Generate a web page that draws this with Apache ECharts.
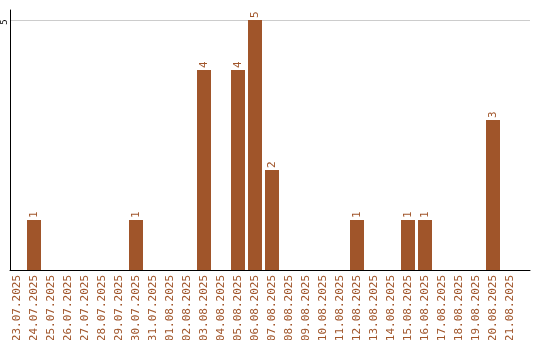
<!DOCTYPE html>
<html><head><meta charset="utf-8">
<script src="https://cdn.jsdelivr.net/npm/echarts@6/dist/echarts.min.js"></script>
<style>html,body{margin:0;padding:0;background:#fff}#c{width:540px;height:340px}</style>
</head><body><div id="c"></div>
<script>
const categories = ['23.07.2025','24.07.2025','25.07.2025','26.07.2025','27.07.2025','28.07.2025','29.07.2025','30.07.2025','31.07.2025','01.08.2025','02.08.2025','03.08.2025','04.08.2025','05.08.2025','06.08.2025','07.08.2025','08.08.2025','09.08.2025','10.08.2025','11.08.2025','12.08.2025','13.08.2025','14.08.2025','15.08.2025','16.08.2025','17.08.2025','18.08.2025','19.08.2025','20.08.2025','21.08.2025'];
const values = [0,1,0,0,0,0,0,1,0,0,0,4,0,4,5,2,0,0,0,0,1,0,0,1,1,0,0,0,3,0];
const yTicks = [5];
const color = '#a0552a';
const chart = echarts.init(document.getElementById('c'), null, {renderer:'canvas'});
chart.setOption({
  animation:false,
  grid:[
    {left:8.5, right:21.5, top:10, bottom:70, containLabel:false, outerBoundsMode:'none'},
    {left:10, right:10, top:10, bottom:70, containLabel:false, outerBoundsMode:'none'}
  ],
  xAxis:[
    {type:'category', data:categories, boundaryGap:true, gridIndex:0,
      axisLine:{show:false}, axisTick:{show:false},
      axisLabel:{interval:0, rotate:90, color:color, fontFamily:'DejaVu Sans Mono', fontSize:11, margin:5}},
    {type:'value', gridIndex:1, min:0, max:1, axisLine:{show:true, onZero:false, lineStyle:{color:'#000', width:1}},
      axisTick:{show:false}, axisLabel:{show:false}, splitLine:{show:false}}
  ],
  yAxis:[
    {type:'value', gridIndex:0, min:0, max:5.2, interval:5, offset:-2,
      axisLine:{show:true, lineStyle:{color:'#000', width:1}}, axisTick:{show:false},
      splitLine:{show:false},
      axisLabel:{showMinLabel:false, showMaxLabel:false, rotate:90, align:'center', verticalAlign:'middle',
        padding:[0,4,0,0],
        color:'#000', fontFamily:'DejaVu Sans Mono', fontSize:9, margin:6,
        formatter:v=> yTicks.includes(v)? String(v): ''}},
    {type:'value', gridIndex:1, min:0, max:5.2, interval:5,
      axisLine:{show:false}, axisTick:{show:false}, axisLabel:{show:false},
      splitLine:{show:true, showMaxLine:false, showMinLine:false, lineStyle:{color:'#cccccc', width:1}}}
  ],
  series:[{type:'bar', xAxisIndex:0, yAxisIndex:0, data:values.map(v=> v===0? null : v), barWidth:14, itemStyle:{color:color},
    label:{show:true, position:'top', rotate:90, align:'left', verticalAlign:'middle', distance:2,
      color:color, fontFamily:'DejaVu Sans Mono', fontSize:11}, z:3}]
});
</script></body></html>
